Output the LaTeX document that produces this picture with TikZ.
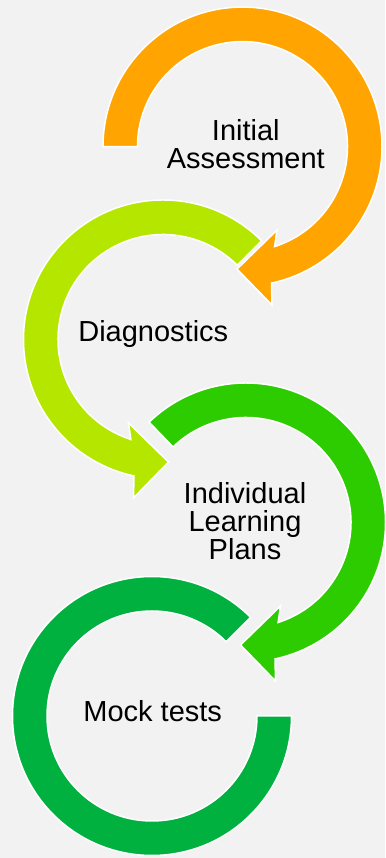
\documentclass[tikz,border=0pt]{standalone}
\usepackage{fontspec}
\setmainfont{Liberation Sans}
\definecolor{stepA}{HTML}{FFA400}
\definecolor{stepB}{HTML}{B4E600}
\definecolor{stepC}{HTML}{2DCC00}
\definecolor{stepD}{HTML}{00B140}
\definecolor{paper}{HTML}{F2F2F2}
\tikzset{
  ring/.style={draw=white, line width=1.5pt, line join=miter},
  label/.style={inner sep=0pt, align=center, font=\fontsize{29}{28}\selectfont}
}
\begin{document}
\begin{tikzpicture}[x=1pt, y=1pt]
\fill[paper] (0,0) rectangle (385,858);
\useasboundingbox (0,0) rectangle (385,858);
\coordinate (c1) at (242.5,711.4);
\coordinate (c2) at (163,518.5);
\coordinate (c3) at (246,335.5);
\coordinate (c4) at (152,142);
% last step first, so that each head lies over the next ring
\path[ring, fill=stepD, shift={(c4)}] (45:139.5) arc[start angle=45, end angle=360, radius=139.5]
  -- (0:105) arc[start angle=360, end angle=45, radius=105] -- cycle;
\path[ring, fill=stepC, shift={(c3)}] (134:139.5) arc[start angle=134, end angle=-78, radius=139.5]
  -- (29.5,-158.5) -- (-5.5,-122.5) -- (34.5,-83.5)
  -- (-72.2:105) arc[start angle=-72.2, end angle=134, radius=105] -- cycle;
\path[ring, fill=stepB, shift={(c2)}] (45:139.5) arc[start angle=45, end angle=258, radius=139.5]
  -- (-29.5,-158.5) -- (5.5,-122.5) -- (-34.5,-83.5)
  -- (252.2:105) arc[start angle=252.2, end angle=45, radius=105] -- cycle;
\path[ring, fill=stepA, shift={(c1)}] (180:139.5) arc[start angle=180, end angle=-78, radius=139.5]
  -- (29.5,-158.5) -- (-5.5,-122.5) -- (34.5,-83.5)
  -- (-72.2:105) arc[start angle=-72.2, end angle=180, radius=105] -- cycle;
% texts
\node[label] (initial) at (245.8,714.2) {Initial\\Assessment};
\node[label, anchor=base] (diag) at (153.3,516.5) {Diagnostics};
\node[label] (ilp) at (245,336.7) {Individual\\Learning\\Plans};
\node[label, anchor=base] (mock) at (152.7,136.3) {Mock tests};
\end{tikzpicture}
\end{document}
